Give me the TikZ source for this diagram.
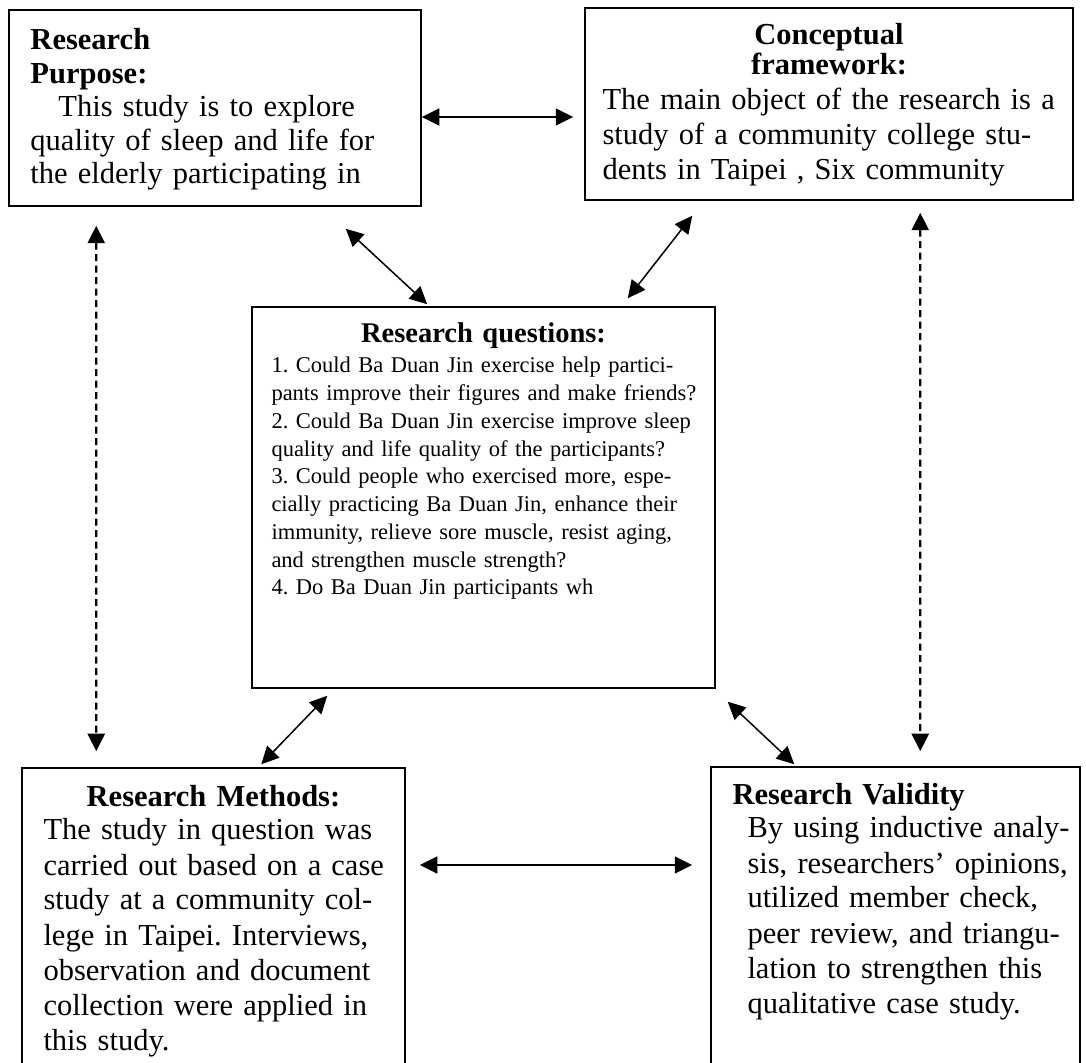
\documentclass[tikz,border=0pt]{standalone}
\usepackage{fontspec}
\setmainfont{Liberation Serif}
\frenchspacing
\usepackage{tikz}
\usetikzlibrary{calc}
\usetikzlibrary{arrows.meta}
\tikzstyle{box} = [rectangle, draw=black, line width=0.6pt, inner sep=0pt]
\tikzstyle{body} = [inner sep=0pt, text width=200pt, align=left, anchor=base west, font=\fontsize{12.2}{14}\selectfont]
\tikzstyle{head} = [inner sep=0pt, text width=200pt, align=center, anchor=base, font=\fontsize{12.2}{12}\selectfont\bfseries]
\tikzstyle{arrow} = [line width=0.6pt, {Triangle[length=7pt,width=6.8pt]}-{Triangle[length=7pt,width=6.8pt]}]
\tikzstyle{dasharrow} = [arrow, line width=0.9pt, dash pattern=on 2.8pt off 1.8pt]

\begin{document}
\begin{tikzpicture}[x=0.4pt,y=-0.4pt]
	\useasboundingbox (0,0) rectangle (1086,1063);
	\clip (0,0) rectangle (1086,1063);
	% boxes
	\node (purpose) at (215,108) [box, minimum width=164.8pt, minimum height=78.4pt] {};
	\node (concept) at (829,104) [box, minimum width=195.2pt, minimum height=76.8pt] {};
	\node (questions) at (483.5,497.5) [box, minimum width=185.2pt, minimum height=152.4pt] {};
	\node (methods) at (213.5,929) [box, minimum width=153.2pt, minimum height=128.8pt] {};
	\node (validity) at (895.5,928.5) [box, minimum width=147.6pt, minimum height=129.2pt] {};
	% texts
	\node (purposetxt) at (30,50) [body, font=\fontsize{12.2}{13.4}\selectfont] {\textbf{Research}\\\textbf{Purpose:}\\\hspace*{11.2pt}This study is to explore\\quality of sleep and life for\\the elderly participating in};
	\node (concepthead) at (829,45) [head] {Conceptual\\framework:};
	\node (concepttxt) at (602,110) [body] {The main object of the research is a\\study of a community college stu-\\dents in Taipei , Six community};
	\node (questionshead) at (483.5,343) [head, font=\fontsize{11.4}{12}\selectfont\bfseries] {Research questions:};
	\node (questionstxt) at (271,373) [body, font=\fontsize{9}{11.1}\selectfont] {1. Could Ba Duan Jin exercise help partici-\\pants improve their figures and make friends?\\2. Could Ba Duan Jin exercise improve sleep\\quality and life quality of the participants?\\3. Could people who exercised more, espe-\\cially practicing Ba Duan Jin, enhance their\\immunity, relieve sore muscle, resist aging,\\and strengthen muscle strength?\\4. Do Ba Duan Jin participants wh};
	\node (methodshead) at (213.5,807) [head] {Research Methods:};
	\node (methodstxt) at (43,840) [body] {The study in question was\\carried out based on a case\\study at a community col-\\lege in Taipei. Interviews,\\observation and document\\collection were applied in\\this study.};
	\node (validityhead) at (732,805) [body, font=\fontsize{12.2}{14}\selectfont\bfseries] {Research Validity};
	\node (validitytxt) at (747,838) [body] {By using inductive analy-\\sis, researchers' opinions,\\utilized member check,\\peer review, and triangu-\\lation to strengthen this\\qualitative case study.};
	% arrows
	\draw[arrow] ($(purpose.east)+(0,9)$) -- ($(concept.west)+(-11,13)$);
	\draw[dasharrow] ($(purpose.south west)+(88,19)$) -- ($(methods.north west)+(75,-16)$);
	\draw[dasharrow] ($(concept.south west)+(336,12)$) -- ($(validity.north west)+(210,-15)$);
	\draw[arrow] ($(purpose.south east)+(-76,22)$) -- ($(questions.north west)+(176,-2)$);
	\draw[arrow] ($(concept.south west)+(108,15)$) -- ($(questions.north east)+(-88,-8)$);
	\draw[arrow] ($(questions.south west)+(76,7)$) -- ($(methods.north west)+(240,-3)$);
	\draw[arrow] ($(questions.south east)+(12,13)$) -- ($(validity.north west)+(84,-2)$);
	\draw[arrow] ($(methods.east)+(14,-64)$) -- ($(validity.west)+(-18,-63.5)$);
\end{tikzpicture}
\end{document}
